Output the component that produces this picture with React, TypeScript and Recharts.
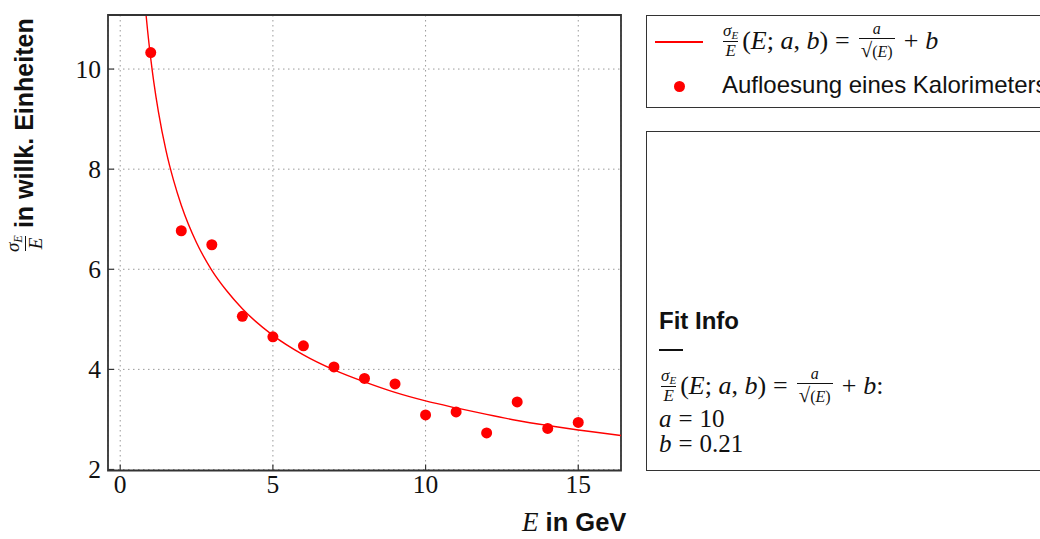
import React from 'react';
import {
  CartesianGrid, ComposedChart, Line, ReferenceArea, Scatter, XAxis, YAxis
} from 'recharts';

// measured points (energy in GeV, resolution in arbitrary units)
const energies = [1, 2, 3, 4, 5, 6, 7, 8, 9, 10, 11, 12, 13, 14, 15];
const resolution = [10.33, 6.77, 6.49, 5.06, 4.65, 4.47, 4.05, 3.82, 3.71, 3.09, 3.15, 2.73, 3.35, 2.82, 2.94];

// fit curve
const fitEnergies = [0.85, 0.9, 1, 1.1, 1.25, 1.5, 1.75, 2, 2.5, 3, 3.5, 4, 5, 6, 7, 8, 9, 10, 11, 12, 13, 14, 15, 16.4];
const fitValues = [11.06, 10.75, 10.21, 9.74, 9.15, 8.37, 7.77, 7.28, 6.53, 5.98, 5.56, 5.21, 4.68, 4.29, 3.99, 3.75, 3.54, 3.37, 3.23, 3.1, 2.98, 2.88, 2.79, 2.68];

const xTicks = [0, 5, 10, 15];
const yTicks = [2, 4, 6, 8, 10];
const xDomain: [number, number] = [-0.4, 16.4];
const yDomain: [number, number] = [1.98, 11.08];

const points = energies.map((e, i) => ({ e, v: resolution[i] }));
const curve = fitEnergies.map((e, i) => ({ e, v: fitValues[i] }));

const SERIF = '"Liberation Serif", "DejaVu Serif", serif';
const SANS = '"Liberation Sans", Arial, sans-serif';
const RED = '#ff0000';
const FRAME = '#333';
const PLOT_LEFT = 108;
const PLOT_BOTTOM = 470.5;

function YTick(props: any) {
  const { y, payload } = props;
  return (
    <g>
      <line x1={PLOT_LEFT} x2={PLOT_LEFT + 6} y1={y} y2={y} stroke={FRAME} strokeWidth={1.2} />
      <text x={PLOT_LEFT - 7} y={y} dy={8.5} textAnchor="end" fontFamily={SERIF} fontSize={25.5} fill="#111">
        {payload.value}
      </text>
    </g>
  );
}

function XTick(props: any) {
  const { x, payload } = props;
  return (
    <g>
      <line x1={x} x2={x} y1={PLOT_BOTTOM} y2={PLOT_BOTTOM - 6} stroke={FRAME} strokeWidth={1.2} />
      <text x={x} y={PLOT_BOTTOM + 22} textAnchor="middle" fontFamily={SERIF} fontSize={25.5} fill="#111">
        {payload.value}
      </text>
    </g>
  );
}

function Frac({ num, den, size = 15 }: { num: React.ReactNode; den: React.ReactNode; size?: number }) {
  return (
    <span style={{ display: 'inline-flex', flexDirection: 'column', alignItems: 'center', verticalAlign: 'middle', fontSize: size, lineHeight: 1.05, margin: '0 2px' }}>
      <span style={{ padding: '0 2px' }}>{num}</span>
      <span style={{ borderTop: '1px solid #111', padding: '0 2px' }}>{den}</span>
    </span>
  );
}

const SigmaE = () => (
  <span><i>σ</i><sub style={{ fontSize: '0.65em', fontStyle: 'italic', verticalAlign: '-0.25em' }}>E</sub></span>
);

const Op = ({ c }: { c: string }) => <span style={{ margin: '0 7px' }}>{c}</span>;

function Formula({ tail = '' }: { tail?: string }) {
  return (
    <span style={{ fontFamily: SERIF, fontSize: 26, color: '#111', whiteSpace: 'nowrap', display: 'inline-flex', alignItems: 'center' }}>
      <Frac num={<SigmaE />} den={<i>E</i>} size={17} />
      <span>(<i>E</i>;&nbsp;<i>a</i>,&nbsp;<i>b</i>)</span>
      <Op c="=" />
      <Frac num={<i>a</i>} den={<span><span style={{ fontSize: '1.3em' }}>√</span>(<i>E</i>)</span>} size={16} />
      <Op c="+" />
      <span><i>b</i>{tail}</span>
    </span>
  );
}

export default function App() {
  return (
    <div style={{ position: 'absolute', left: 0, top: 0, width: 1040, height: 539, overflow: 'hidden', background: '#fff' }}>
      <ComposedChart width={640} height={539} margin={{ top: 15, right: 19, bottom: 28.5, left: 48 }}>
        <CartesianGrid stroke="#999" strokeDasharray="1.5 3.5" />
        <XAxis dataKey="e" type="number" domain={xDomain} ticks={xTicks} height={40}
          axisLine={false} tickLine={false} tick={<XTick />} allowDataOverflow />
        <YAxis type="number" domain={yDomain} ticks={yTicks} width={60}
          axisLine={false} tickLine={false} tick={<YTick />} allowDataOverflow />
        <ReferenceArea x1={xDomain[0]} x2={xDomain[1]} y1={yDomain[0]} y2={yDomain[1]}
          fill="none" stroke={FRAME} strokeWidth={1.8} fillOpacity={0} />
        <Line data={curve} dataKey="v" type="monotone" stroke={RED} strokeWidth={1.4} dot={false} isAnimationActive={false} />
        <Scatter data={points} dataKey="v" fill={RED} isAnimationActive={false}
          shape={(p: any) => <circle cx={p.cx} cy={p.cy} r={5.5} fill={RED} />} />
      </ComposedChart>

      {/* y label */}
      <div style={{ position: 'absolute', left: 5, top: 256, height: 38, transform: 'rotate(-90deg)', transformOrigin: 'left top', display: 'flex', alignItems: 'center', whiteSpace: 'nowrap' }}>
        <span style={{ fontFamily: SERIF, color: '#111' }}><Frac num={<SigmaE />} den={<i>E</i>} size={19} /></span>
        <span style={{ fontFamily: SANS, fontWeight: 'bold', fontSize: 25, color: '#111', marginLeft: 3 }}>in willk. Einheiten</span>
      </div>

      {/* x label */}
      <div style={{ position: 'absolute', left: 522, top: 507, whiteSpace: 'nowrap', color: '#111' }}>
        <i style={{ fontFamily: SERIF, fontSize: 27 }}>E</i>
        <span style={{ fontFamily: SANS, fontWeight: 'bold', fontSize: 25.5 }}> in GeV</span>
      </div>

      {/* legend */}
      <div style={{ position: 'absolute', left: 646, top: 15, width: 420, height: 93, border: `1.8px solid ${FRAME}`, boxSizing: 'border-box' }}>
        <div style={{ position: 'absolute', left: 8, top: 25, width: 48, height: 1.5, background: RED }} />
        <div style={{ position: 'absolute', left: 72, top: 2, height: 46, display: 'flex', alignItems: 'center' }}>
          <Formula />
        </div>
        <div style={{ position: 'absolute', left: 27, top: 65, width: 11, height: 11, borderRadius: '50%', background: RED }} />
        <div style={{ position: 'absolute', left: 75, top: 55, fontFamily: SANS, fontSize: 24, color: '#111', whiteSpace: 'nowrap' }}>
          Aufloesung eines Kalorimeters
        </div>
      </div>

      {/* fit info */}
      <div style={{ position: 'absolute', left: 646, top: 131, width: 420, height: 340, border: `1.8px solid ${FRAME}`, boxSizing: 'border-box' }}>
        <div style={{ position: 'absolute', left: 12, top: 175, fontFamily: SANS, fontWeight: 'bold', fontSize: 24, color: '#111' }}>Fit Info</div>
        <div style={{ position: 'absolute', left: 12, top: 217, width: 24, height: 1.6, background: '#111' }} />
        <div style={{ position: 'absolute', left: 10, top: 231, height: 46, display: 'flex', alignItems: 'center' }}>
          <Formula tail=":" />
        </div>
        <div style={{ position: 'absolute', left: 12, top: 274, fontFamily: SERIF, fontSize: 25, color: '#111', lineHeight: '25px', whiteSpace: 'nowrap' }}>
          <div><i>a</i><Op c="=" />10</div>
          <div><i>b</i><Op c="=" />0.21</div>
        </div>
      </div>
    </div>
  );
}
